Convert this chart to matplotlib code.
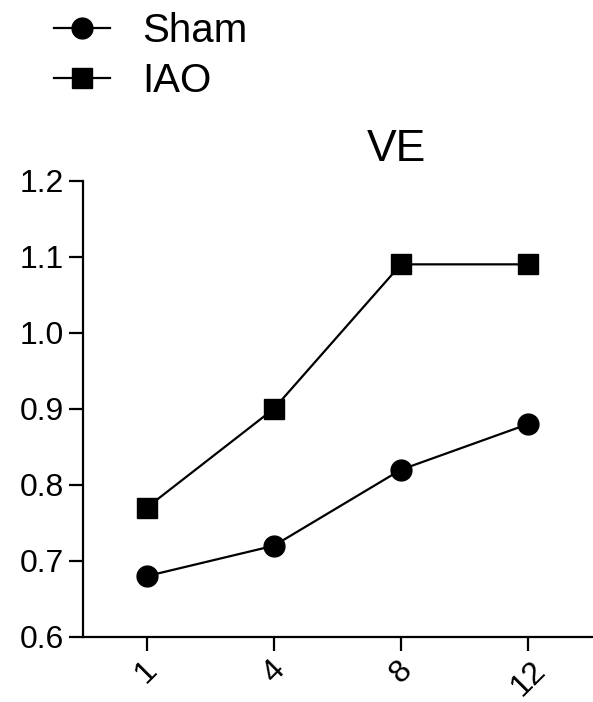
import matplotlib
matplotlib.use("Agg")
import matplotlib.pyplot as plt

# weeks and ventilation values
weeks = ["1", "4", "8", "12"]
sham = [0.68, 0.72, 0.82, 0.88]
iao = [0.77, 0.90, 1.09, 1.09]

plt.rcParams['font.family'] = ['Liberation Sans', 'DejaVu Sans']

fig = plt.figure(figsize=(5.93, 7.02), dpi=100)
ax = fig.add_axes([0.140, 0.0926, 0.858, 0.650])

x = range(len(weeks))
l1, = ax.plot(x, sham, color="black", lw=1.6, marker="o", markersize=15, label="Sham")
l2, = ax.plot(x, iao, color="black", lw=1.6, marker="s", markersize=15, label="IAO")

ax.set_xlim(-0.5, 3.5)
ax.set_ylim(0.6, 1.2)
ax.set_yticks([0.6, 0.7, 0.8, 0.9, 1.0, 1.1, 1.2])
ax.set_yticklabels(["0.6", "0.7", "0.8", "0.9", "1.0", "1.1", "1.2"])
ax.set_xticks(list(x))
ax.set_xticklabels(weeks, rotation=45, ha="center", va="top")

for s in ["top", "right"]:
    ax.spines[s].set_visible(False)
for s in ["left", "bottom"]:
    ax.spines[s].set_linewidth(1.6)
ax.tick_params(length=10, width=1.6, labelsize=23, pad=4)
ax.tick_params(axis="x", pad=3)

ax.set_title("VE", fontsize=32, pad=14, x=0.616)

fig.legend(handles=[l1, l2], loc="upper left", bbox_to_anchor=(0.03, 1.035),
           frameon=False, fontsize=29, handlelength=1.4, handletextpad=0.8,
           labelspacing=0.3)

plt.savefig("out.png", dpi=100)
